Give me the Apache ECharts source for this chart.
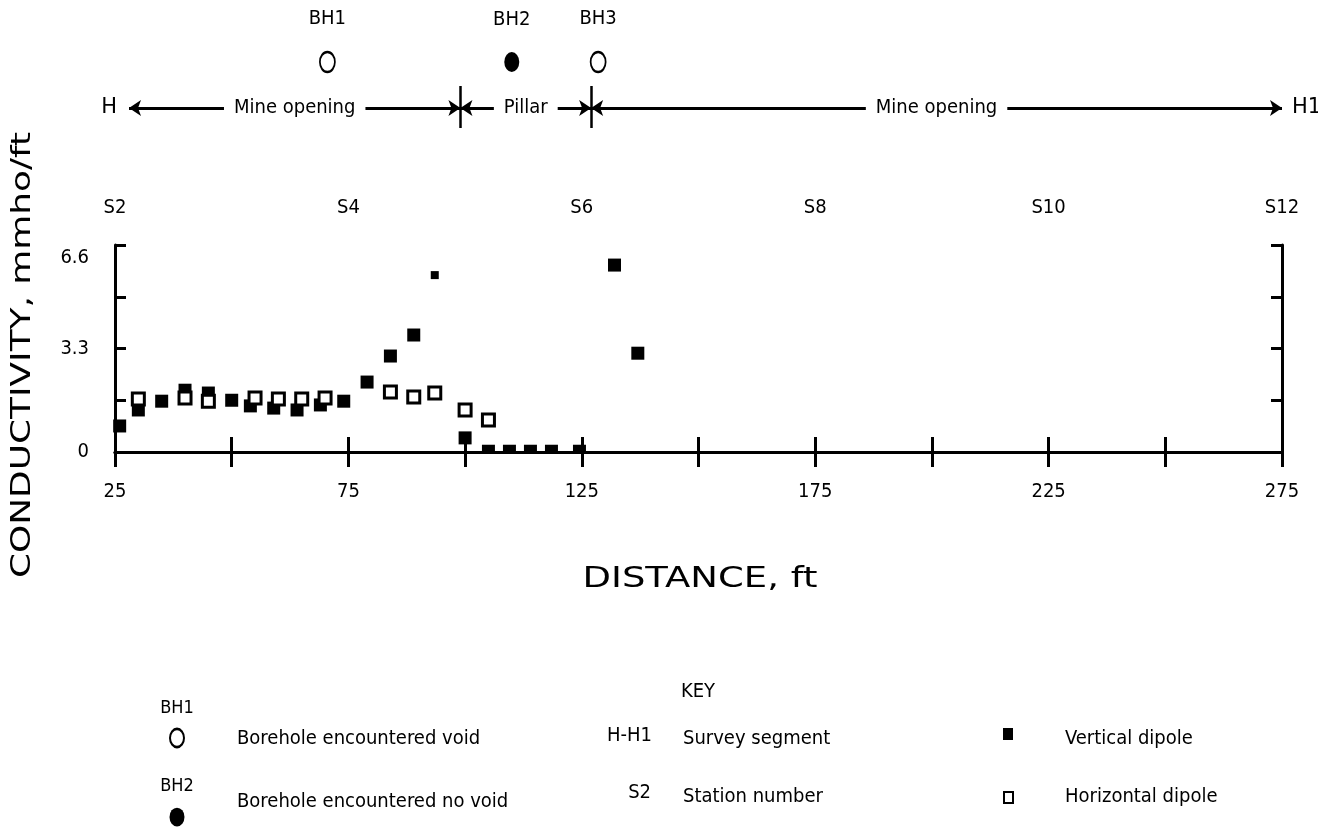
<!DOCTYPE html>
<html>
<head>
<meta charset="utf-8">
<script src="https://cdn.jsdelivr.net/npm/echarts@6/dist/echarts.min.js"></script>
<style>
  html, body { margin: 0; padding: 0; background: #fff; }
  #chart { width: 1318px; height: 832px; }
</style>
</head>
<body>
<div id="chart"></div>
<script>
// tick labels
var distanceLabels = ['25', '75', '125', '175', '225', '275'];
var stationLabels = ['S2', 'S4', 'S6', 'S8', 'S10', 'S12'];
var conductivityLabels = ['0', '3.3', '6.6'];

// vertical dipole (filled squares), distance ft / conductivity mmho/ft
var verticalX = [26, 30, 35, 40, 45, 50, 54, 59, 64, 69, 74, 79, 84, 89, 93.5, 100, 105, 109.5, 114, 118.5, 124.5, 132, 137];
var verticalY = [0.83, 1.34, 1.62, 1.97, 1.88, 1.65, 1.47, 1.4, 1.34, 1.5, 1.62, 2.23, 3.06, 3.73, 5.64, 0.45, 0.12, 0.12, 0.12, 0.12, 0.12, 5.96, 3.15];

// horizontal dipole (open squares)
var horizontalX = [30, 40, 45, 55, 60, 65, 70, 84, 89, 93.5, 100, 105];
var horizontalY = [1.69, 1.72, 1.62, 1.72, 1.69, 1.69, 1.72, 1.91, 1.75, 1.88, 1.34, 1.02];

// boreholes along the survey line
var boreholeNames = ['BH1', 'BH2', 'BH3'];
var boreholeDist = [70.5, 110, 128.5];
var boreholeVoid = [true, false, true];

// survey segment H - H1
var segmentEdges = [28, 99, 127, 275];
var segmentNames = ['Mine opening', 'Pillar', 'Mine opening'];
var segmentEnds = ['H', 'H1'];

var FONT = '"DejaVu Sans Condensed", "DejaVu Sans", sans-serif';
var WIDE = '"DejaVu Sans", sans-serif';
var chart = echarts.init(document.getElementById('chart'), null, { renderer: 'canvas' });

function pick(arr, v) {
  var i = Math.round((v - 25) / 25);
  return i % 2 === 0 ? arr[i / 2] : '';
}

var tickStyle = { show: true, inside: true, length: 15, lineStyle: { color: '#000', width: 3 } };
var lineStyle = { show: true, lineStyle: { color: '#000', width: 3 } };
var labelStyle = { color: '#000', fontFamily: FONT, fontSize: 20 };

// annotation row (grid 1), y measured in px down from the top
var ROW_BH = 62, ROW_SEG = 108;

var boreholeData = boreholeNames.map(function (n, i) {
  return {
    name: n,
    value: [boreholeDist[i], ROW_BH],
    itemStyle: boreholeVoid[i]
      ? { color: '#fff', borderColor: '#000', borderWidth: 2, opacity: 1 }
      : { color: '#000', borderWidth: 0, opacity: 1 }
  };
});

var segLines = [];
segmentNames.forEach(function (n, i) {
  segLines.push([
    { coord: [segmentEdges[i], ROW_SEG], name: n },
    { coord: [segmentEdges[i + 1], ROW_SEG] }
  ]);
});
[segmentEdges[1], segmentEdges[2]].forEach(function (x) {
  segLines.push([
    { coord: [x, 86], symbol: 'none', label: { show: false }, lineStyle: { width: 2.5 } },
    { coord: [x, 128], symbol: 'none' }
  ]);
});

chart.setOption({
  animation: false,
  backgroundColor: '#fff',
  grid: [
    { left: 115, right: 36, top: 245, height: 207 },
    { left: 115, right: 36, top: 0, height: 130 }
  ],
  xAxis: [
    {
      gridIndex: 0, type: 'value', position: 'bottom', min: 25, max: 275, interval: 25,
      axisLine: lineStyle, axisTick: tickStyle, splitLine: { show: false },
      axisLabel: Object.assign({ margin: 30, formatter: function (v) { return pick(distanceLabels, v); } }, labelStyle)
    },
    {
      gridIndex: 0, type: 'value', position: 'top', min: 25, max: 275, interval: 25,
      axisLine: lineStyle, axisTick: tickStyle, splitLine: { show: false },
      axisLabel: Object.assign({ margin: 27, formatter: function (v) { return pick(stationLabels, v); } }, labelStyle)
    },
    { gridIndex: 1, type: 'value', min: 25, max: 275, show: false }
  ],
  yAxis: [
    {
      gridIndex: 0, type: 'value', position: 'left', min: 0, max: 6.6, interval: 3.3,
      axisLine: lineStyle, splitLine: { show: false },
      axisTick: { show: true, inside: true, length: 11, lineStyle: { color: '#000', width: 3 } },
      minorTick: { show: true, splitNumber: 2, length: 11, lineStyle: { color: '#000', width: 3 } },
      axisLabel: Object.assign({
        margin: 26,
        formatter: function (v) {
          var i = Math.round(v / 3.3);
          return i === 2 ? '{low|' + conductivityLabels[i] + '}' : conductivityLabels[i];
        },
        rich: { low: { color: '#000', fontFamily: FONT, fontSize: 20, padding: [26, 0, 0, 0] } }
      }, labelStyle)
    },
    {
      gridIndex: 0, type: 'value', position: 'right', min: 0, max: 6.6, interval: 3.3,
      axisLine: lineStyle, splitLine: { show: false }, axisLabel: { show: false },
      axisTick: { show: true, inside: true, length: 11, lineStyle: { color: '#000', width: 3 } },
      minorTick: { show: true, splitNumber: 2, length: 11, lineStyle: { color: '#000', width: 3 } }
    },
    { gridIndex: 1, type: 'value', min: 0, max: 130, inverse: true, show: false }
  ],
  series: [
    {
      name: 'Vertical dipole', type: 'scatter', xAxisIndex: 0, yAxisIndex: 0,
      symbol: 'rect', clip: false,
      symbolSize: function (v, p) {
        if (v[1] < 0.2) return [13, 7];
        if (p.dataIndex === 14) return 8;
        return 13;
      },
      itemStyle: { color: '#000', opacity: 1 },
      data: verticalX.map(function (x, i) { return [x, verticalY[i]]; })
    },
    {
      name: 'Horizontal dipole', type: 'scatter', xAxisIndex: 0, yAxisIndex: 0,
      symbol: 'rect', symbolSize: 12, clip: false,
      itemStyle: { color: '#fff', borderColor: '#000', borderWidth: 3, opacity: 1 },
      data: horizontalX.map(function (x, i) { return [x, horizontalY[i]]; })
    },
    {
      name: 'Boreholes', type: 'scatter', xAxisIndex: 2, yAxisIndex: 2,
      symbol: 'circle', symbolSize: [15, 20], clip: false,
      label: { show: true, position: 'top', distance: 22, formatter: '{b}', color: '#000', fontFamily: FONT, fontSize: 20 },
      data: boreholeData
    },
    {
      name: 'Survey', type: 'scatter', xAxisIndex: 2, yAxisIndex: 2,
      symbolSize: 0, clip: false, silent: true,
      itemStyle: { color: '#000', opacity: 1 },
      label: { show: true, formatter: '{b}', distance: 10, color: '#000', opacity: 1, fontFamily: WIDE, fontSize: 21 },
      data: [
        { name: segmentEnds[0], value: [segmentEdges[0], ROW_SEG], label: { position: 'left', distance: 12 } },
        { name: segmentEnds[1], value: [segmentEdges[3], ROW_SEG], label: { position: 'right' } }
      ],
      markLine: {
        silent: true,
        symbol: ['arrow', 'arrow'],
        symbolSize: [12, 12],
        lineStyle: { color: '#000', width: 3, type: 'solid', opacity: 1 },
        label: {
          show: true, position: 'middle', formatter: '{b}', distance: 0, verticalAlign: 'middle',
          backgroundColor: '#fff', padding: [2, 10], color: '#000', fontFamily: FONT, fontSize: 20
        },
        data: segLines
      }
    }
  ],
  graphic: [
    // axis titles
    { type: 'text', x: 700, y: 580, scaleX: 1.32,
      style: { text: 'DISTANCE, ft', font: '28px ' + WIDE, fill: '#000', textAlign: 'center', textVerticalAlign: 'middle' } },
    { type: 'text', x: 23, y: 355, rotation: Math.PI / 2, scaleX: 1.38,
      style: { text: 'CONDUCTIVITY, mmho/ft', font: '26px ' + WIDE, fill: '#000', textAlign: 'center', textVerticalAlign: 'middle' } },
    // key
    { type: 'text', x: 698, y: 692, style: { text: 'KEY', font: '20px ' + FONT, fill: '#000', textAlign: 'center', textVerticalAlign: 'middle' } },
    { type: 'text', x: 177, y: 708, style: { text: 'BH1', font: '18px ' + FONT, fill: '#000', textAlign: 'center', textVerticalAlign: 'middle' } },
    { type: 'circle', x: 177, y: 738, scaleY: 1.3, shape: { cx: 0, cy: 0, r: 7 }, style: { fill: '#fff', stroke: '#000', lineWidth: 2 } },
    { type: 'text', x: 237, y: 739, style: { text: 'Borehole encountered void', font: '20px ' + FONT, fill: '#000', textAlign: 'left', textVerticalAlign: 'middle' } },
    { type: 'text', x: 177, y: 786, style: { text: 'BH2', font: '18px ' + FONT, fill: '#000', textAlign: 'center', textVerticalAlign: 'middle' } },
    { type: 'circle', x: 177, y: 817, scaleY: 1.25, shape: { cx: 0, cy: 0, r: 7.5 }, style: { fill: '#000' } },
    { type: 'text', x: 237, y: 802, style: { text: 'Borehole encountered no void', font: '20px ' + FONT, fill: '#000', textAlign: 'left', textVerticalAlign: 'middle' } },
    { type: 'text', x: 652, y: 736, style: { text: 'H-H1', font: '20px ' + FONT, fill: '#000', textAlign: 'right', textVerticalAlign: 'middle' } },
    { type: 'text', x: 683, y: 739, style: { text: 'Survey segment', font: '20px ' + FONT, fill: '#000', textAlign: 'left', textVerticalAlign: 'middle' } },
    { type: 'text', x: 651, y: 793, style: { text: 'S2', font: '20px ' + FONT, fill: '#000', textAlign: 'right', textVerticalAlign: 'middle' } },
    { type: 'text', x: 683, y: 797, style: { text: 'Station number', font: '20px ' + FONT, fill: '#000', textAlign: 'left', textVerticalAlign: 'middle' } },
    { type: 'rect', shape: { x: 1003, y: 728, width: 10, height: 12 }, style: { fill: '#000' } },
    { type: 'text', x: 1065, y: 739, style: { text: 'Vertical dipole', font: '20px ' + FONT, fill: '#000', textAlign: 'left', textVerticalAlign: 'middle' } },
    { type: 'rect', shape: { x: 1004, y: 792, width: 9, height: 11 }, style: { fill: '#fff', stroke: '#000', lineWidth: 2 } },
    { type: 'text', x: 1065, y: 797, style: { text: 'Horizontal dipole', font: '20px ' + FONT, fill: '#000', textAlign: 'left', textVerticalAlign: 'middle' } }
  ]
});

window.addEventListener('resize', function () { chart.resize(); });
</script>
</body>
</html>
